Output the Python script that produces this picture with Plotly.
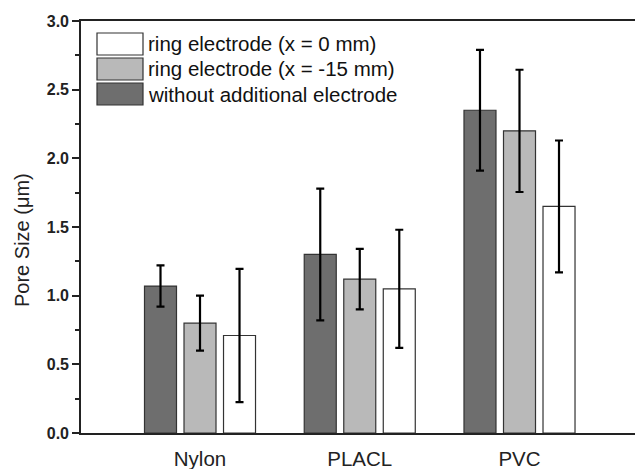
import plotly.graph_objects as go

categories = ["Nylon", "PLACL", "PVC"]
series_names = ["without additional electrode", "ring electrode (x = -15 mm)", "ring electrode (x = 0 mm)"]
without_vals = [1.07, 1.30, 2.35]
without_err = [0.15, 0.48, 0.44]
ring15_vals = [0.80, 1.12, 2.20]
ring15_err = [0.20, 0.22, 0.445]
ring0_vals = [0.71, 1.05, 1.65]
ring0_err = [0.485, 0.43, 0.48]
y_ticks = [0.0, 0.5, 1.0, 1.5, 2.0, 2.5, 3.0]
y_ticklabels = ["0.0", "0.5", "1.0", "1.5", "2.0", "2.5", "3.0"]

colors = ["#6e6e6e", "#b9b9b9", "#ffffff"]
values = [without_vals, ring15_vals, ring0_vals]
errors = [without_err, ring15_err, ring0_err]

FONT = "Arial, 'Liberation Sans', sans-serif"

fig = go.Figure()
for name, v, e, c in zip(series_names, values, errors, colors):
    fig.add_trace(go.Bar(
        x=categories, y=v, name=name,
        marker=dict(color=c, line=dict(color="#333333", width=1.2)),
        error_y=dict(type="data", array=e, color="#000000", thickness=2.2, width=4),
        showlegend=False,
    ))

W, H = 635, 469
L, T, B, R = 81, 21, 36, 0
pw, ph = W - L - R, H - T - B

def px_x(x):
    return (x - L) / pw

def px_y(y):
    return 1 - (y - T) / ph

# custom legend (order as in reference: white, light, dark)
legend_rows = [(series_names[2], colors[2]), (series_names[1], colors[1]), (series_names[0], colors[0])]
row_centers = [44, 69, 94]
for (name, c), yc in zip(legend_rows, row_centers):
    fig.add_shape(type="rect", xref="paper", yref="paper",
                  x0=px_x(97), x1=px_x(143), y0=px_y(yc + 11), y1=px_y(yc - 11),
                  fillcolor=c, line=dict(color="#333333", width=1.2))
    fig.add_annotation(xref="paper", yref="paper", x=px_x(146), y=px_y(yc),
                       text=name, showarrow=False, xanchor="left", yanchor="middle",
                       font=dict(family=FONT, size=20.5, color="#111111"))

fig.add_annotation(xref="paper", yref="paper", x=px_x(22), y=px_y(240),
                   text="Pore Size (\u03bcm)", textangle=-90, showarrow=False,
                   xanchor="center", yanchor="middle",
                   font=dict(family=FONT, size=20, color="#222222"))

fig.update_layout(
    width=W, height=H,
    margin=dict(l=L, r=R, t=T, b=B, pad=0),
    paper_bgcolor="white", plot_bgcolor="white",
    barmode="group", bargap=0.258, bargroupgap=0.19,
    showlegend=False,
    xaxis=dict(
        range=[-0.745, 2.723], showgrid=False, zeroline=False,
        showline=True, linecolor="#222222", linewidth=1.6, mirror=True,
        ticks="", ticklabelstandoff=7,
        tickfont=dict(family=FONT, size=20.5, color="#222222"),
    ),
    yaxis=dict(
        range=[0, 3], showgrid=False, zeroline=False,
        showline=True, linecolor="#222222", linewidth=1.6, mirror=False,
        ticks="outside", ticklen=7, tickwidth=1.5, tickcolor="#222222",
        tickvals=y_ticks, ticktext=[f"<b>{t}</b>" for t in y_ticklabels],
        tickfont=dict(family=FONT, size=16, color="#222222"),
        minor=dict(dtick=0.25, ticks="outside", ticklen=4, tickwidth=1.5, tickcolor="#222222"),
    ),
)

fig.write_html("out.html", config={"displayModeBar": False},
               post_script="document.body.style.margin='0';document.body.style.overflow='hidden';")
